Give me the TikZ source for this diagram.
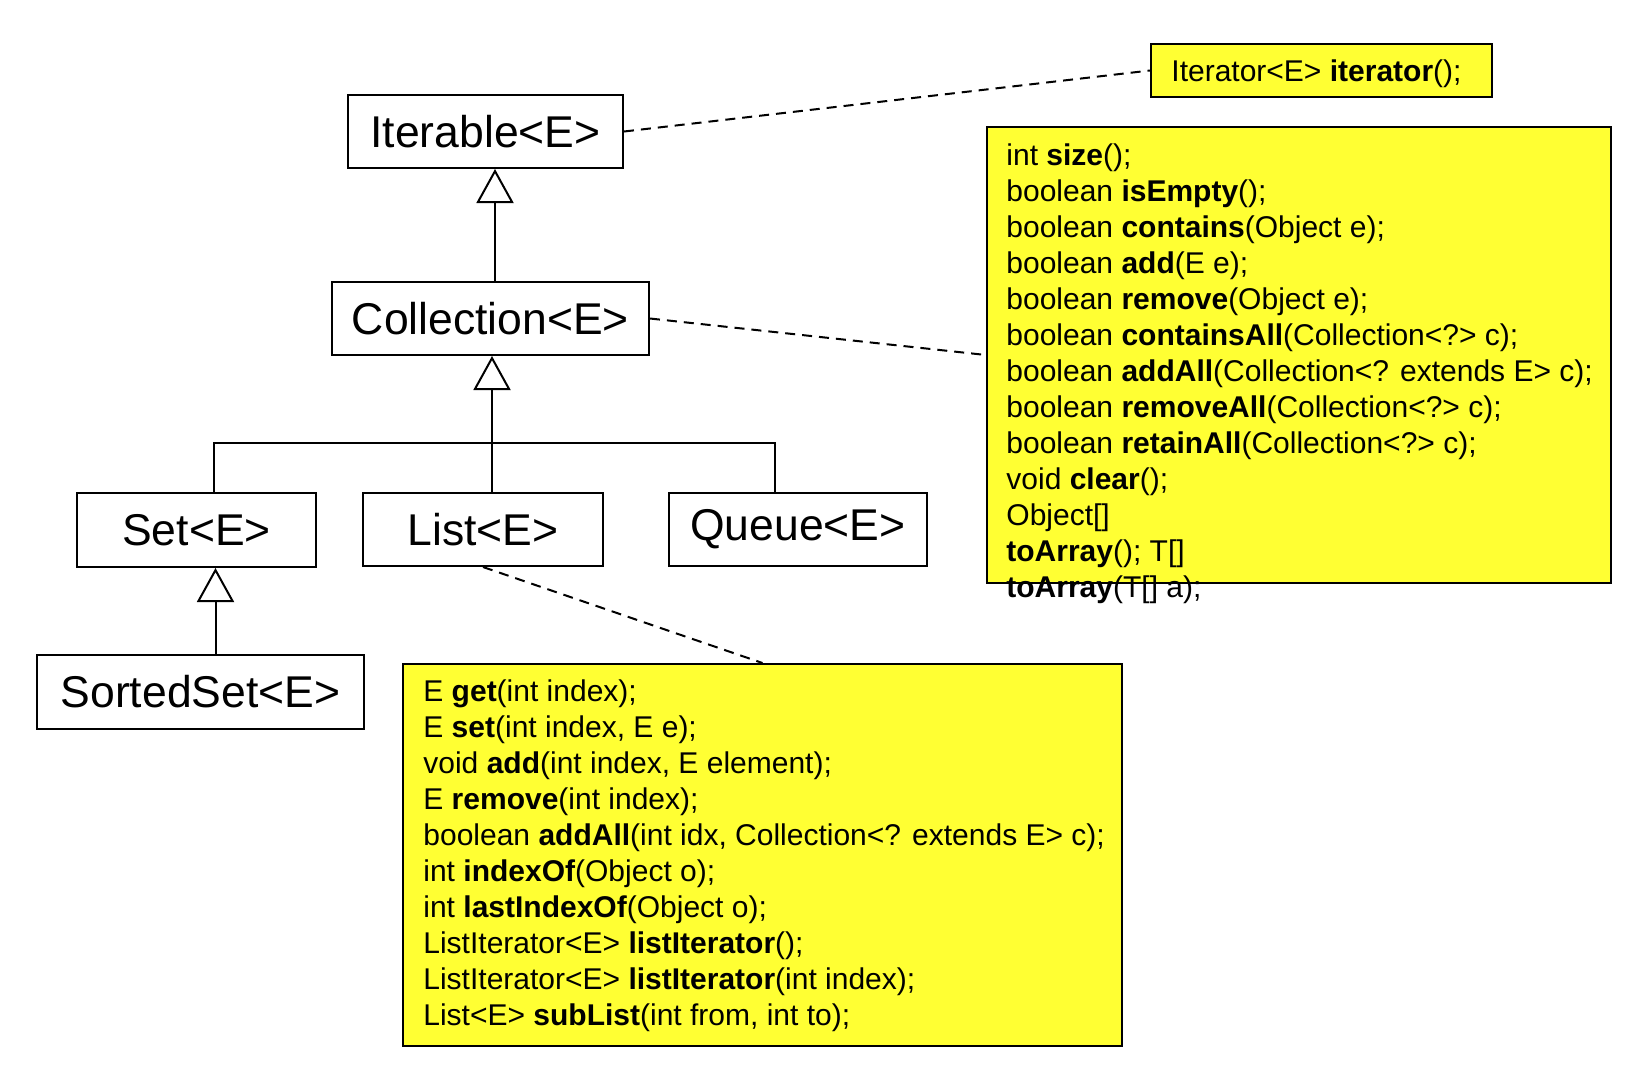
\documentclass[tikz,border=0pt]{standalone}
\usepackage{fontspec}
\setmainfont{Liberation Sans}
\usetikzlibrary{arrows.meta}
\definecolor{noteyellow}{RGB}{255,255,51}
\begin{document}
\begin{tikzpicture}[x=0.5pt,y=-0.5pt,
  umlbox/.style={draw=black, line width=1pt, fill=white, inner sep=0pt,
    font=\fontsize{22.25}{26}\selectfont},
  notebox/.style={draw=black, line width=1pt, fill=noteyellow, inner sep=0pt},
  notetext/.style={inner sep=0pt, align=left, font=\fontsize{15}{18}\selectfont},
  solidline/.style={draw=black, line width=1pt},
  gen/.style={solidline, -{Triangle[open,length=17pt,width=18.5pt,line width=1pt]}},
  dashline/.style={draw=black, line width=1pt, dash pattern=on 5pt off 3.5pt}
]
\fill[white] (0,0) rectangle (1638,1078);
\useasboundingbox (0,0) rectangle (1638,1078);

% class boxes
\node[umlbox, minimum width=137.5pt, minimum height=36.5pt] (iterable) at (485.5,131.5) {Iterable<E>};
\node[umlbox, minimum width=158.5pt, minimum height=36.5pt] (collection) at (490.5,318.5) {Collection<E>};
\node[umlbox, minimum width=119.5pt, minimum height=37pt] (set) at (196.5,530) {Set<E>};
\node[umlbox, minimum width=120pt, minimum height=36.5pt] (list) at (483,529.5) {List<E>};
\node[umlbox, minimum width=129pt, minimum height=36.5pt] (queue) at (798,529.5) {Queue<E>};
\node[umlbox, minimum width=163.5pt, minimum height=37pt] (sortedset) at (200.5,692) {SortedSet<E>};

% note boxes
\node[notebox, minimum width=170.5pt, minimum height=26.5pt] (iterbox) at (1321.5,70.5) {};
\node[notebox, minimum width=312pt, minimum height=228pt] (colbox) at (1299,355) {};
\node[notebox, minimum width=359.5pt, minimum height=191pt] (listbox) at (762.5,855) {};

% dashed links
\draw[dashline] (iterable.east) -- (iterbox.west);
\draw[dashline] (collection.east) -- (colbox.west);
\draw[dashline] (list.south) -- (listbox.north);

% note texts
\node[notetext, anchor=base west] (itertext) at (1171,81) {Iterator<E> \textbf{iterator}();};
\node[notetext, anchor=north west] (coltext) at (1006,139.8) {%
\strut int \textbf{size}();\\
\strut boolean \textbf{isEmpty}();\\
\strut boolean \textbf{contains}(Object e);\\
\strut boolean \textbf{add}(E e);\\
\strut boolean \textbf{remove}(Object e);\\
\strut boolean \textbf{containsAll}(Collection<?> c);\\
\strut boolean \textbf{addAll}(Collection<? extends E> c);\\
\strut boolean \textbf{removeAll}(Collection<?> c);\\
\strut boolean \textbf{retainAll}(Collection<?> c);\\
\strut void \textbf{clear}();\\
\strut Object[]\\
\strut \textbf{toArray}(); T[]\\
\strut \textbf{toArray}(T[] a);};
\node[notetext, anchor=north west] (listtext) at (423,675.8) {%
\strut E \textbf{get}(int index);\\
\strut E \textbf{set}(int index, E e);\\
\strut void \textbf{add}(int index, E element);\\
\strut E \textbf{remove}(int index);\\
\strut boolean \textbf{addAll}(int idx, Collection<? extends E> c);\\
\strut int \textbf{indexOf}(Object o);\\
\strut int \textbf{lastIndexOf}(Object o);\\
\strut ListIterator<E> \textbf{listIterator}();\\
\strut ListIterator<E> \textbf{listIterator}(int index);\\
\strut List<E> \textbf{subList}(int from, int to);};

% generalizations
\coordinate (junction) at (492,443);
\draw[gen] ([xshift=2.25pt]collection.north) -- ([xshift=2.25pt]collection.north |- iterable.south);
\draw[gen] ([xshift=4.5pt]list.north) -- ([xshift=4.5pt]list.north |- collection.south);
\draw[solidline] ([xshift=8.75pt]set.north) |- (junction) -| ([xshift=-11.5pt]queue.north);
\draw[gen] ([xshift=7.5pt]sortedset.north) -- ([xshift=7.5pt]sortedset.north |- set.south);
\end{tikzpicture}
\end{document}
